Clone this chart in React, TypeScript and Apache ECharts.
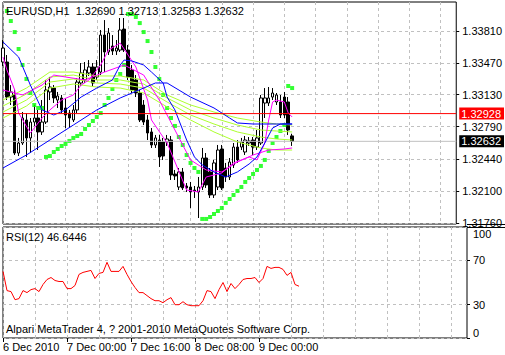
import React, { useEffect, useRef } from 'react';
import * as echarts from 'echarts';

const FONT = "'Liberation Sans Narrow', 'Liberation Sans', Arial, sans-serif";

const symbolTitle = 'EURUSD,H1  1.32690 1.32713 1.32583 1.32632';
const rsiTitle = 'RSI(12) 46.6446';
const copyright = 'Alpari MetaTrader 4, ? 2001-2010 MetaQuotes Software Corp.';

const timeTickLabels = ['6 Dec 2010', '7 Dec 00:00', '7 Dec 16:00', '8 Dec 08:00', '9 Dec 00:00'];
const priceTicks = [1.3176, 1.321, 1.3244, 1.3279, 1.3313, 1.3347, 1.3381];
const rsiTicks = [0, 30, 70, 100];
const levelLine = 1.32928;
const bidLine = 1.32632;
const slotCount = 117;

// [open, close, low, high]
const candles = [
  [1.33479, 1.33628, 1.33436, 1.33714], [1.33479, 1.33105, 1.33073, 1.33554], [1.33105, 1.33159, 1.3302, 1.33233],
  [1.33127, 1.32507, 1.32486, 1.3318], [1.32507, 1.32614, 1.32475, 1.32668], [1.32614, 1.32881, 1.32593, 1.32945],
  [1.3286, 1.32668, 1.32465, 1.32934], [1.32668, 1.32838, 1.32507, 1.32881], [1.32838, 1.32881, 1.32796, 1.3302],
  [1.32881, 1.32732, 1.32539, 1.32967], [1.32732, 1.32838, 1.327, 1.33073], [1.32838, 1.3318, 1.32817, 1.33287],
  [1.33159, 1.33212, 1.33073, 1.33319], [1.33201, 1.33095, 1.33041, 1.33233], [1.33073, 1.33116, 1.32988, 1.33159],
  [1.33095, 1.32967, 1.32934, 1.33127], [1.32988, 1.32913, 1.32774, 1.33095], [1.32934, 1.32881, 1.32774, 1.32967],
  [1.3286, 1.32967, 1.32838, 1.3302], [1.32967, 1.33265, 1.32934, 1.33308], [1.33255, 1.33362, 1.33223, 1.33468],
  [1.33287, 1.33394, 1.33255, 1.33479], [1.33362, 1.33426, 1.3333, 1.335], [1.33426, 1.33255, 1.33223, 1.33468],
  [1.33319, 1.33426, 1.33287, 1.335], [1.33372, 1.33767, 1.3334, 1.33821], [1.33767, 1.33586, 1.33372, 1.33927],
  [1.33586, 1.33789, 1.33554, 1.33842], [1.3365, 1.33596, 1.33554, 1.33767], [1.33596, 1.33628, 1.33554, 1.33714],
  [1.33607, 1.33821, 1.33586, 1.33949], [1.33831, 1.33607, 1.33586, 1.33949], [1.33607, 1.33319, 1.33287, 1.33661],
  [1.33394, 1.3318, 1.33148, 1.33447], [1.33287, 1.33148, 1.33105, 1.3334], [1.33148, 1.3286, 1.32838, 1.3318],
  [1.3302, 1.32838, 1.32806, 1.33073], [1.3286, 1.32721, 1.32646, 1.32913], [1.32732, 1.32593, 1.32561, 1.32774],
  [1.32593, 1.32668, 1.32561, 1.327], [1.32646, 1.32465, 1.32358, 1.327], [1.32625, 1.32475, 1.32433, 1.32668],
  [1.32625, 1.32657, 1.32582, 1.327], [1.32646, 1.32273, 1.32219, 1.32689], [1.32283, 1.32262, 1.32219, 1.32326],
  [1.32144, 1.32305, 1.32112, 1.32347], [1.32305, 1.32134, 1.32112, 1.32347], [1.32155, 1.32134, 1.32091, 1.32187],
  [1.32144, 1.32091, 1.3192, 1.32198], [1.32112, 1.32102, 1.32027, 1.32155], [1.32091, 1.32144, 1.31813, 1.32251],
  [1.32144, 1.32454, 1.32112, 1.32561], [1.32454, 1.32166, 1.32134, 1.32507], [1.32305, 1.32059, 1.32027, 1.32347],
  [1.32059, 1.32401, 1.32027, 1.32433], [1.32144, 1.32539, 1.32112, 1.32593], [1.3255, 1.32134, 1.32112, 1.32593],
  [1.32347, 1.32251, 1.32198, 1.32401], [1.32251, 1.32411, 1.32219, 1.32454], [1.32379, 1.32571, 1.32347, 1.32614],
  [1.32571, 1.32433, 1.32401, 1.32646], [1.32571, 1.32625, 1.32539, 1.32668], [1.32518, 1.32646, 1.32486, 1.32689],
  [1.32614, 1.32636, 1.32582, 1.32678], [1.32646, 1.32571, 1.32486, 1.32678], [1.32571, 1.32668, 1.32539, 1.32753],
  [1.32614, 1.33095, 1.32593, 1.33127], [1.33041, 1.33095, 1.32881, 1.33201], [1.33041, 1.33095, 1.33009, 1.33212],
  [1.33105, 1.33148, 1.33073, 1.33201], [1.33052, 1.33127, 1.3302, 1.33148], [1.33052, 1.32913, 1.32881, 1.33127],
  [1.33105, 1.32913, 1.32881, 1.33159], [1.33052, 1.32753, 1.327, 1.33105], [1.3269, 1.32632, 1.32583, 1.32713],
];

const parabolicSar = [
  null, 1.34024, 1.33917, 1.33799, 1.33618, 1.33447, 1.33298, 1.33148, 1.3302, 1.32988,
  1.32988, 1.32465, 1.32475, 1.32518, 1.3255, 1.32582, 1.32604, 1.32636, 1.32668, 1.32689,
  1.3271, 1.32764, 1.32806, 1.32849, 1.32892, 1.32934, 1.3302, 1.33095, 1.33191, 1.33287,
  1.33351, 1.33447, 1.33992, 1.33992, 1.3396, 1.33895, 1.33799, 1.33703, 1.33586, 1.33426,
  1.33298, 1.33127, 1.32988, 1.32881, 1.32796, 1.32678, 1.32593, 1.32486, 1.32401, 1.32347,
  1.32305, 1.31803, 1.31803, 1.31824, 1.31856, 1.31888, 1.3192, 1.31974, 1.32016, 1.32059,
  1.32102, 1.32144, 1.32198, 1.3224, 1.32283, 1.32326, 1.32369, 1.32433, 1.32529, 1.32614,
  1.32678, 1.32742, 1.32806, 1.33223, 1.33201,
];

const rsi12 = [
  60.0, 42.7, 41.8, 34.5, 35.5, 42.7, 40.9, 43.6, 44.5, 41.8,
  48.2, 52.7, 54.5, 51.8, 50.9, 50.9, 44.5, 44.5, 47.3, 57.3,
  59.1, 60.0, 60.9, 53.6, 58.2, 59.1, 68.2, 60.0, 60.0, 60.0,
  64.5, 57.3, 50.9, 45.5, 40.9, 40.9, 38.2, 35.5, 33.6, 33.6,
  31.8, 34.5, 36.4, 30.0, 30.0, 32.7, 30.0, 29.1, 29.1, 29.1,
  33.6, 42.7, 41.8, 35.5, 43.6, 50.0, 41.8, 49.1, 44.5, 48.2,
  52.7, 53.6, 53.6, 54.5, 50.0, 53.6, 64.5, 62.7, 63.6, 63.6,
  61.8, 56.4, 59.1, 48.2, 46.6446,
];

// moving averages read at sample bars: [bar index, value]
const blueSlow = [[0, 1.32347], [6, 1.32486], [12, 1.32646], [18, 1.32806], [24, 1.32967], [30, 1.33095], [36, 1.33201], [39, 1.33255], [42, 1.33255], [48, 1.33105], [54, 1.32988], [58, 1.32881], [60, 1.32828], [64, 1.32817], [70, 1.32817], [74, 1.32817]];
const blueFast = [[0, 1.33693], [4, 1.33532], [7, 1.33233], [10, 1.32967], [13, 1.32913], [16, 1.32967], [20, 1.33105], [24, 1.33201], [28, 1.33287], [30, 1.33447], [31, 1.335], [33, 1.3349], [36, 1.33447], [38, 1.33372], [41, 1.33255], [42, 1.33105], [44, 1.32967], [47, 1.32646], [49, 1.32465], [51, 1.32379], [54, 1.32305], [57, 1.32251], [60, 1.32305], [63, 1.3239], [65, 1.32465], [67, 1.32614], [69, 1.32774], [71, 1.32817], [74, 1.32817]];
const magentaFast = [[0, 1.33532], [1, 1.33394], [3, 1.3318], [4, 1.32934], [7, 1.32721], [10, 1.32881], [12, 1.32967], [15, 1.33073], [18, 1.33127], [20, 1.33233], [22, 1.33287], [25, 1.33447], [27, 1.33607], [30, 1.33682], [34, 1.33426], [37, 1.33073], [38, 1.3286], [42, 1.32614], [47, 1.32112], [50, 1.32091], [52, 1.32251], [56, 1.32294], [59, 1.32401], [63, 1.32465], [65, 1.32433], [67, 1.32614], [68, 1.3286], [69, 1.33052], [70, 1.33073], [72, 1.33052], [73, 1.32934], [74, 1.32892]];
const magentaSlow = [[0, 1.3318], [5, 1.33127], [10, 1.33233], [13, 1.3334], [16, 1.33319], [21, 1.33287], [26, 1.33372], [31, 1.33447], [36, 1.3334], [40, 1.33073], [44, 1.32753], [48, 1.32433], [52, 1.32326], [56, 1.32305], [60, 1.32411], [64, 1.32486], [68, 1.32539], [72, 1.3255], [74, 1.32561]];
const limeA = [[0, 1.33073], [6, 1.33201], [12, 1.33372], [18, 1.33372], [24, 1.3333], [30, 1.3333], [36, 1.33287], [42, 1.33127], [48, 1.3302], [54, 1.32945], [60, 1.32881], [66, 1.32838], [70, 1.32817], [74, 1.32806]];
const limeB = [[0, 1.33009], [6, 1.33137], [12, 1.33319], [18, 1.3334], [24, 1.33287], [30, 1.33287], [36, 1.33244], [42, 1.33095], [48, 1.32967], [54, 1.32881], [60, 1.32806], [66, 1.32753], [70, 1.32742], [74, 1.32732]];
const limeC = [[0, 1.32945], [6, 1.33073], [12, 1.33265], [18, 1.33298], [24, 1.33255], [30, 1.33244], [36, 1.33201], [42, 1.33052], [48, 1.32913], [54, 1.32817], [60, 1.32732], [66, 1.32678], [70, 1.32657], [74, 1.32646]];
const limeD = [[0, 1.32881], [6, 1.33009], [12, 1.33201], [18, 1.33244], [24, 1.33212], [30, 1.33201], [36, 1.33148], [42, 1.32999], [48, 1.3286], [54, 1.32732], [60, 1.32625], [66, 1.32561], [70, 1.32539], [74, 1.32539]];

const categories: string[] = [];
for (let i = 0; i < slotCount; i++) {
  const t = new Date(Date.UTC(2010, 11, 6, 8 + i));
  categories.push(`${t.getUTCDate()} Dec ${String(t.getUTCHours()).padStart(2, '0')}:00`);
}

const textBase = { fontFamily: FONT, fontSize: 11, color: '#000' };
const dash = { color: '#c0c0c0', type: [3, 3] as number[], width: 1 };

function lineSeries(name: string, data: number[][], color: string) {
  return {
    name, type: 'line', xAxisIndex: 0, yAxisIndex: 0, data, symbol: 'none', showSymbol: false,
    connectNulls: true, lineStyle: { color, width: 1 }, itemStyle: { color }, silent: true,
  };
}

function priceLine(name: string, value: number, lineColor: string, boxColor: string) {
  return {
    name, type: 'line', xAxisIndex: 0, yAxisIndex: 0,
    data: [[0, value], [slotCount - 1, value]],
    symbol: 'none', showSymbol: false, silent: true, clip: false,
    lineStyle: { color: lineColor, width: 1 }, itemStyle: { color: lineColor },
    endLabel: {
      show: true, formatter: value.toFixed(5), distance: 3,
      color: '#fff', backgroundColor: boxColor, padding: [1, 3, 0, 2], fontFamily: FONT, fontSize: 11,
    },
  };
}

export default function App() {
  const ref = useRef<HTMLDivElement>(null);
  useEffect(() => {
    const chart = echarts.init(ref.current as HTMLDivElement, null, { renderer: 'svg' });
    const xCommon = {
      type: 'category', data: categories, boundaryGap: false,
      axisLine: { show: false },
      splitLine: { show: true, interval: (i: number) => i % 8 === 0, lineStyle: dash },
    };
    chart.setOption({
      animation: false,
      backgroundColor: '#fff',
      textStyle: { fontFamily: FONT },
      grid: [
        { left: 3, right: 38, top: 2, height: 222, show: true, borderColor: '#000', borderWidth: 1, backgroundColor: '#fff' },
        { left: 3, right: 38, top: 227, height: 111, show: true, borderColor: '#000', borderWidth: 1, backgroundColor: '#fff' },
      ],
      xAxis: [
        { ...xCommon, gridIndex: 0, axisTick: { show: false }, axisLabel: { show: false } },
        {
          ...xCommon, gridIndex: 1,
          axisTick: { show: true, interval: (i: number) => i % 16 === 0 && i <= 64, length: 4, lineStyle: { color: '#000' } },
          axisLabel: {
            show: true, interval: (i: number) => i % 16 === 0 && i <= 64,
            formatter: (_v: string, i: number) => timeTickLabels[i / 16] ?? '',
            align: 'left', margin: 3, ...textBase,
          },
        },
      ],
      yAxis: [
        {
          type: 'value', gridIndex: 0, position: 'right', min: 1.31749, max: 1.3412,
          axisLine: { show: false },
          axisTick: { show: true, customValues: priceTicks, length: 3, lineStyle: { color: '#000' } },
          axisLabel: { show: true, customValues: priceTicks, formatter: (v: number) => v.toFixed(5), margin: 6, lineHeight: 11, ...textBase },
          splitLine: { show: true, lineStyle: dash },
        },
        {
          type: 'value', gridIndex: 1, position: 'right', min: 0, max: 100,
          axisLine: { show: false },
          axisTick: { show: true, customValues: rsiTicks, length: 3, lineStyle: { color: '#000' } },
          axisLabel: {
            show: true, customValues: rsiTicks, margin: 6, lineHeight: 11, ...textBase,
            formatter: (v: number) => (v === 100 ? '{top|100}' : String(v)),
            rich: { top: { padding: [3, 0, 0, 0], fontFamily: FONT, fontSize: 11, color: '#000', lineHeight: 11 } },
            verticalAlignMinLabel: 'bottom', verticalAlignMaxLabel: 'top',
          },
          splitLine: { show: true, lineStyle: dash },
        },
      ],
      series: [
        priceLine('Bid', bidLine, '#c0c0c0', '#000000'),
        {
          name: 'EURUSD', type: 'candlestick', xAxisIndex: 0, yAxisIndex: 0, data: candles, barWidth: 3,
          itemStyle: { color: '#ffffff', color0: '#000000', borderColor: '#000000', borderColor0: '#000000', borderWidth: 1 },
          silent: true,
        },
        lineSeries('MA lime A', limeA, '#adff2f'),
        lineSeries('MA lime B', limeB, '#adff2f'),
        lineSeries('MA lime C', limeC, '#adff2f'),
        lineSeries('MA lime D', limeD, '#adff2f'),
        lineSeries('MA magenta slow', magentaSlow, '#ff00ff'),
        lineSeries('MA magenta fast', magentaFast, '#ff00ff'),
        lineSeries('MA blue slow', blueSlow, '#0000ff'),
        lineSeries('MA blue fast', blueFast, '#0000ff'),
        {
          name: 'Parabolic SAR', type: 'scatter', xAxisIndex: 0, yAxisIndex: 0, data: parabolicSar,
          symbol: 'rect', symbolSize: 4, itemStyle: { color: '#00ff00' }, silent: true,
        },
        priceLine('Level', levelLine, '#ff0000', '#ff0000'),
        {
          name: 'RSI(12)', type: 'line', xAxisIndex: 1, yAxisIndex: 1, data: rsi12, symbol: 'none', showSymbol: false,
          lineStyle: { color: '#ff0000', width: 1 }, itemStyle: { color: '#ff0000' }, silent: true,
        },
      ],
      graphic: [
        { type: 'line', z: 100, shape: { x1: 467, y1: 224.5, x2: 505, y2: 224.5 }, style: { stroke: '#000', lineWidth: 1 } },
        { type: 'line', z: 100, shape: { x1: 467, y1: 227.5, x2: 505, y2: 227.5 }, style: { stroke: '#000', lineWidth: 1 } },
        { type: 'text', left: 6, top: 5, z: 100, style: { text: symbolTitle, font: `11px ${FONT}`, fill: '#000' } },
        { type: 'text', left: 6, top: 231, z: 100, style: { text: rsiTitle, font: `11px ${FONT}`, fill: '#000' } },
        { type: 'text', left: 6, top: 323, z: 100, style: { text: copyright, font: `11px ${FONT}`, fill: '#000' } },
      ],
    });
    return () => chart.dispose();
  }, []);
  return <div ref={ref} style={{ position: 'fixed', left: 0, top: 0, width: 505, height: 355, background: '#fff' }} />;
}
